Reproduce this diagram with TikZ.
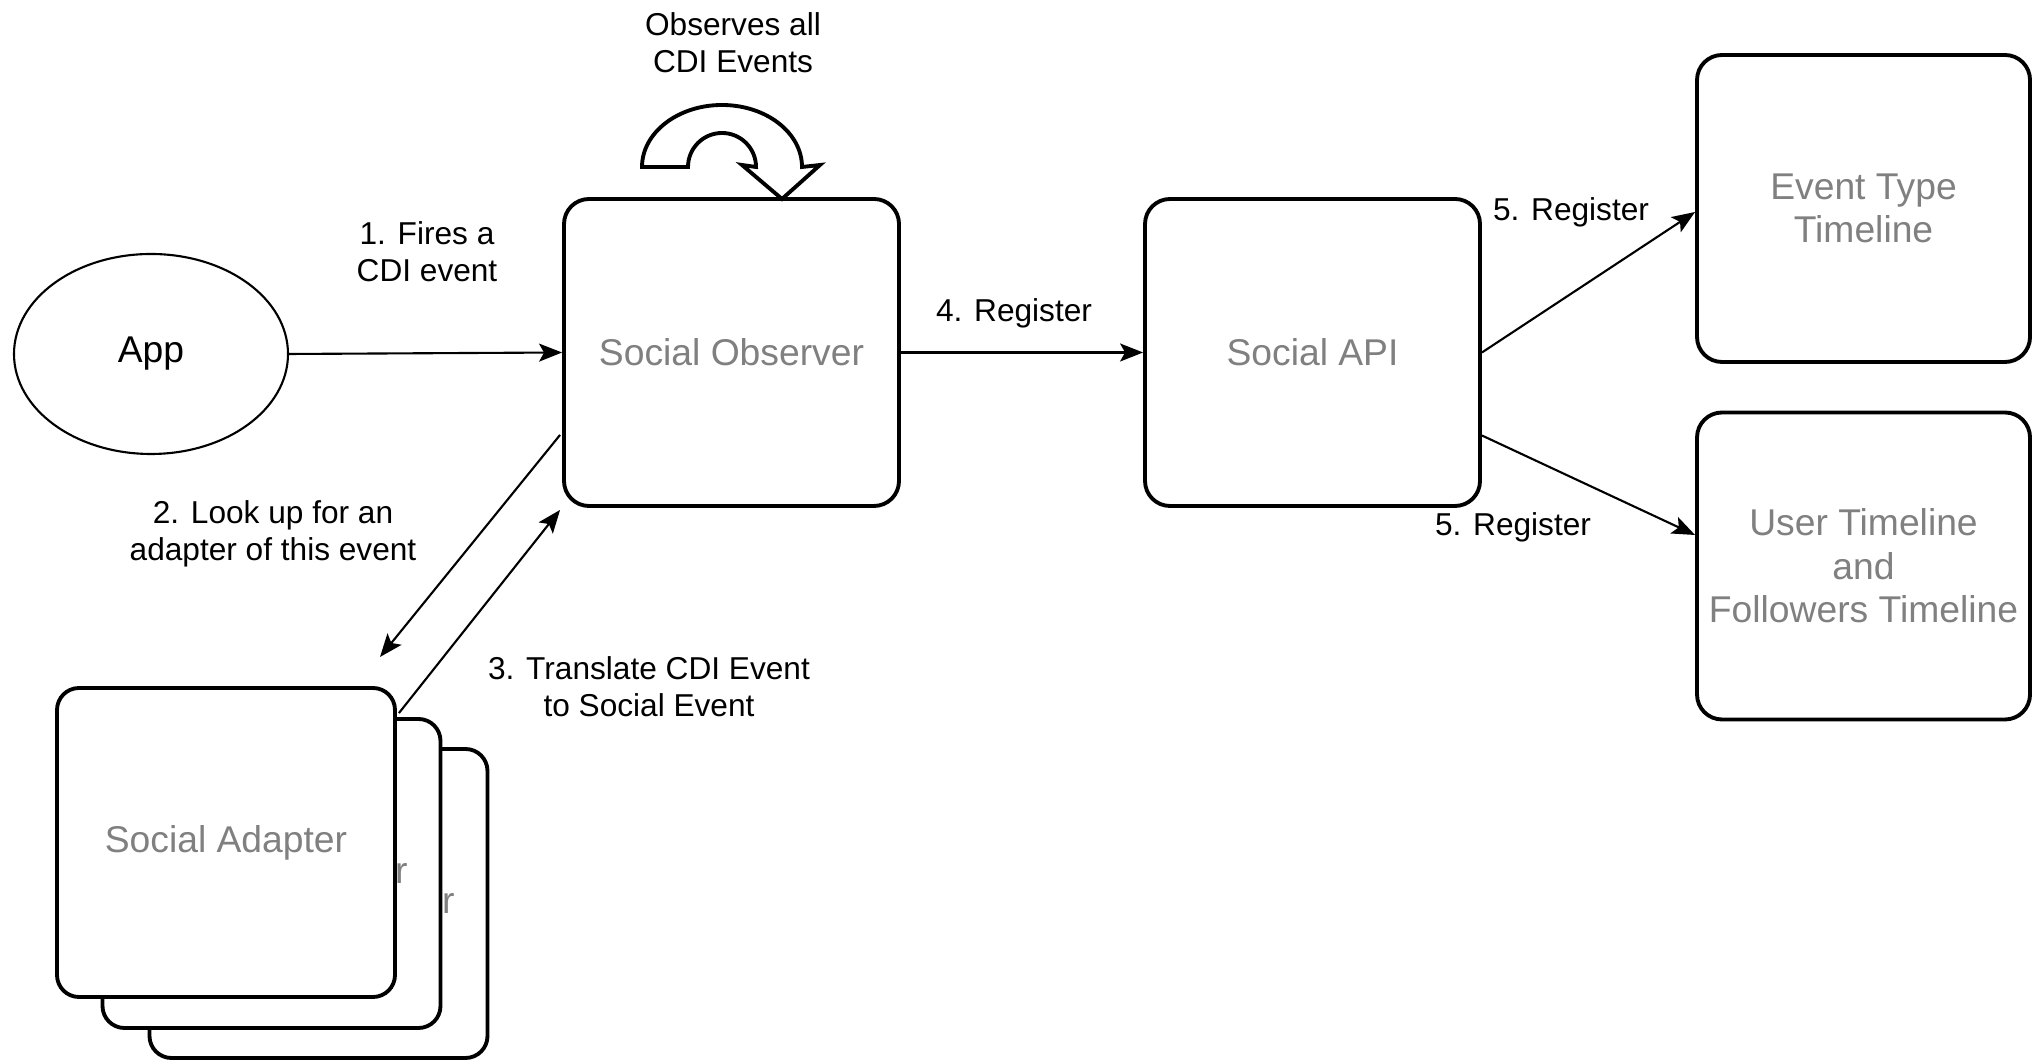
\documentclass[tikz,border=0pt]{standalone}
\usepackage{fontspec}
\setmainfont{Liberation Sans}
\usepackage{tikz}
\usetikzlibrary{shapes.geometric}
\usetikzlibrary{arrows.meta}
\usetikzlibrary{calc}
\definecolor{boxgray}{RGB}{128,128,128}
\tikzset{
  block/.style={draw, line width=1.1pt, rounded corners=0.25cm, fill=white,
    minimum width=3.35cm, minimum height=3.07cm, align=center,
    text=boxgray, font=\fontsize{10.6}{12.4}\selectfont},
  adapter/.style={block, minimum width=3.38cm, minimum height=3.09cm, rounded corners=0.22cm},
  lbl/.style={align=center, font=\fontsize{9}{10.6}\selectfont},
  conn/.style={line width=0.6pt, -{Stealth[length=2.3mm,width=1.8mm,inset=0.5mm]}}
}

\begin{document}
\begin{tikzpicture}
\useasboundingbox (0,0) rectangle (20.36,10.60);
%%%%%%%%%
\node [draw, ellipse, line width=0.6pt, minimum width=2.74cm, minimum height=2.0cm,
  font=\fontsize{10.6}{12.4}\selectfont] (app) at (1.51,7.06) {App};
\node [block] (obs) at (7.315,7.075) {Social Observer};
\node [block] (api) at (13.125,7.075) {Social API};
\node [block, minimum width=3.33cm] (evt) at (18.635,8.515) {Event Type\\Timeline};
\node [block, minimum width=3.33cm] (usr) at (18.635,4.94) {User Timeline\\and\\Followers Timeline};
%%%%%%%%% stacked adapters
\node [adapter] (adp3) at (3.185,1.565) {\hspace{0.3cm}Social Adapter};
\node [adapter] (adp2) at (2.715,1.865) {\hspace{0.3cm}Social Adapter};
\node [adapter] (adp) at (2.26,2.175) {Social Adapter};
%%%%%%%%% self observing arrow
\draw [line width=1.1pt, fill=white] (6.42,8.93)
  arc [start angle=180, end angle=0, x radius=0.80, y radius=0.62]
  -- (8.20,8.95) -- (7.82,8.61) -- (7.42,8.95) -- (7.56,8.93)
  arc [start angle=0, end angle=180, radius=0.34]
  -- cycle;
\node [lbl] (obslbl) at (7.33,10.17) {Observes all\\CDI Events};
%%%%%%%%% connectors
\coordinate (lookup) at (3.80,4.03);
\draw [conn] (app.east) -- (obs.west);
\draw [conn] ($(obs.south west)+(-0.02,0.73)$) -- (lookup);
\draw [conn] ($(adp.north east)+(0.02,-0.27)$) -- ($(obs.south west)+(-0.02,-0.02)$);
\draw [conn] (obs.east) -- (api.west);
\draw [conn] (api.east) -- ($(evt.west)+(0,-0.035)$);
\draw [conn] ($(api.east)+(0,-0.83)$) -- ($(usr.west)+(0,0.31)$);
%%%%%%%%% labels
\node [lbl] (fires) at (4.27,8.08) {1. Fires a\\CDI event};
\node [lbl] (look) at (2.73,5.26) {2. Look up for an\\adapter of this event};
\node [lbl] (trans) at (6.49,3.73) {3. Translate CDI Event\\to Social Event};
\node [lbl] (reg) at (10.14,7.47) {4. Register};
\node [lbl] (regevt) at (15.71,8.48) {5. Register};
\node [lbl] (regusr) at (15.13,5.33) {5. Register};
\end{tikzpicture}
\end{document}
